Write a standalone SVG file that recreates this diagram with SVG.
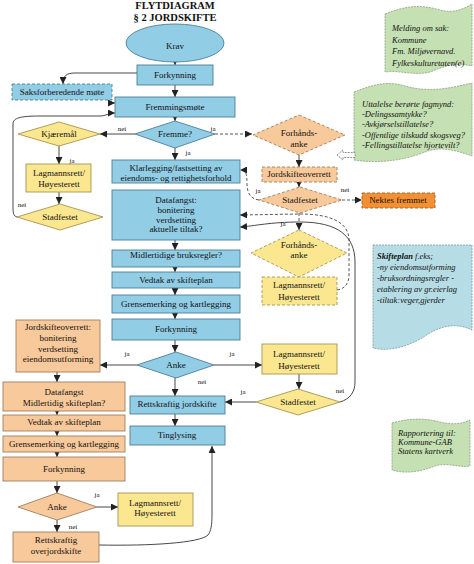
<svg xmlns="http://www.w3.org/2000/svg" width="474" height="564" viewBox="0 0 474 564">
<defs>
<marker id="ah" viewBox="0 0 8 8" refX="8" refY="4" markerWidth="7" markerHeight="7" markerUnits="userSpaceOnUse" orient="auto"><path d="M0,0 L8,4 L0,8 Z" fill="#222"/></marker>
</defs>
<style>
text{font-family:"Liberation Serif","Times New Roman",serif;font-size:9px;fill:#111;text-anchor:middle}
.title{font-weight:bold;font-size:10.5px}
.lbl{font-size:7px}
.note{font-style:italic;font-size:8.5px;text-anchor:start}
.blue{fill:#92cde6;stroke:#4d7f99;stroke-width:0.9}
.org{fill:#f8c99b;stroke:#a07f5f;stroke-width:0.9}
.yel{fill:#fbe78f;stroke:#a69550;stroke-width:0.9}
.dash{stroke-dasharray:3,2}
.nek{fill:#f39034;stroke:#a06020;stroke-width:0.9;stroke-dasharray:3,2}
.green{fill:#c5e0b3;stroke:#8e9e85;stroke-width:0.8;stroke-dasharray:2,1}
.bnote{fill:#b6dde6;stroke:#7a9aa0;stroke-width:0.8;stroke-dasharray:2,1}
.c{fill:none;stroke:#333;stroke-width:0.9;marker-end:url(#ah)}
.cn{fill:none;stroke:#333;stroke-width:0.9}
.cd{fill:none;stroke:#444;stroke-width:0.9;stroke-dasharray:3,2;marker-end:url(#ah)}
</style>

<g id="title">
<text class="title" x="175" y="9">FLYTDIAGRAM</text>
<text class="title" x="175" y="21">§ 2 JORDSKIFTE</text>
</g>

<g id="notes">
<g id="note-melding">
<path class="green" d="M385,14 C405,6 420,4 440,10 C455,14 465,8 472,4 L472,66 C455,62 445,66 430,72 C415,76 400,70 385,72 Z"/>
<text class="note" x="392" y="31">Melding om sak:</text>
<text class="note" x="392" y="43">Kommune</text>
<text class="note" x="392" y="54">Fm. Miljøvernavd.</text>
<text class="note" x="392" y="66">Fylkeskulturetaten(e)</text>
</g>
<g id="note-uttalelse">
<path class="green" d="M354,92 C370,86 385,80 405,86 C430,93 450,88 472,83 L472,156 C455,150 440,146 425,152 C405,160 380,164 354,160 Z"/>
<text class="note" x="362" y="107">Uttalelse berørte fagmynd:</text>
<text class="note" x="362" y="117">-Delingssamtykke?</text>
<text class="note" x="362" y="127">-Avkjørselstillatelse?</text>
<text class="note" x="362" y="137.5">-Offentlige tilskudd skogsveg?</text>
<text class="note" x="362" y="148">-Fellingstillatelse hjortevilt?</text>
</g>
<g id="note-skifteplan">
<path class="bnote" d="M373,245 L472,245 L472,330 C455,322 440,326 425,336 C410,346 390,352 373,348 Z"/>
<text class="note" x="377" y="259"><tspan font-weight="bold">Skifteplan</tspan>  f.eks;</text>
<text class="note" x="377" y="270">-ny eiendomsutforming</text>
<text class="note" x="377" y="281">-bruksordningsregler -</text>
<text class="note" x="377" y="292">etablering av gr.eierlag</text>
<text class="note" x="377" y="303">-tiltak:veger,gjerder</text>
</g>
<g id="note-rapportering">
<path class="green" d="M392,423 C410,418 425,418 440,422 C452,425 462,424 470,420 L470,466 C458,468 448,462 435,466 C420,472 405,474 392,470 Z"/>
<text class="note" x="398" y="436">Rapportering til:</text>
<text class="note" x="398" y="445">Kommune-GAB</text>
<text class="note" x="398" y="454">Statens kartverk</text>
</g>
<path id="note-arrow" d="M337,155 L343,150 L343,152.5 L355,152.5 L355,157.5 L343,157.5 L343,160 Z" fill="#fff" stroke="#777" stroke-width="0.8" stroke-dasharray="2,1"/>
</g>

<g id="connectors">
<path class="c" d="M175,62 L175,65"/>
<path class="c" d="M175,85 L175,97"/>
<path class="c" d="M137,73 L75,73 C66,73 63,76 63,84"/>
<path class="c" d="M112,103 L115,103"/>
<path class="c" d="M17,217 C13,216 13,212 13,206 L13,124 C13,118 20,116 40,116 L100,116 C106,116 108,113 115,113"/>
<path class="c" d="M175,117 L175,121"/>
<path class="c" d="M135,134 L100,134"/>
<path class="cd" d="M215,134 L252,134"/>
<path class="c" d="M175,148 L175,160"/>
<path class="c" d="M59,146 L59,164"/>
<path class="c" d="M59,192 L59,204"/>
<path class="c" d="M175,240 L175,250"/>
<path class="c" d="M175,267 L175,272"/>
<path class="c" d="M175,288 L175,295"/>
<path class="c" d="M175,313 L175,319"/>
<path class="c" d="M175,340 L175,352"/>
<path class="c" d="M137,365 L100,365"/>
<path class="c" d="M214,365 L262,365"/>
<path class="c" d="M175,378 L175,396"/>
<path class="c" d="M299,374 L299,389"/>
<path class="c" d="M256,402 L225,402"/>
<path class="c" d="M340,402 C350,399 355,392 355,382 L355,262 C355,236 338,222 300,222 C270,222 255,226 240,227"/>
<path class="c" d="M175,414 L175,426"/>
<path class="c" d="M57,372 L57,382"/>
<path class="c" d="M57,411 L57,415"/>
<path class="c" d="M57,431 L57,436"/>
<path class="c" d="M57,452 L57,457"/>
<path class="c" d="M57,481 L57,493"/>
<path class="c" d="M97,507 L118,507"/>
<path class="c" d="M57,520 L57,532"/>
<path class="c" d="M99,545 C150,546 200,543 208,535 C211,531 212,525 212,515 L212,446"/>
<path class="c" d="M299,155 L299,167"/>
<path class="c" d="M299,182 L299,187"/>
<path class="cd" d="M342,200 L362,200"/>
<path class="cd" d="M259,200 C250,199 247,192 247,184 C247,174 246,170 240,170"/>
<path class="cd" d="M299,213 L299,230"/>
<path class="cd" d="M337,290 C345,289 349,283 349,275 L349,240 C349,222 330,214 300,214 L240,215"/>
</g>

<g id="labels">
<text class="lbl" x="122" y="131">nei</text>
<text class="lbl" x="213" y="131">ja</text>
<text class="lbl" x="188" y="155">ja</text>
<text class="lbl" x="72" y="163">ja</text>
<text class="lbl" x="22" y="207">nei</text>
<text class="lbl" x="258" y="193">ja</text>
<text class="lbl" x="345" y="192">nei</text>
<text class="lbl" x="283" y="226">ja</text>
<text class="lbl" x="127" y="356">ja</text>
<text class="lbl" x="232" y="356">ja</text>
<text class="lbl" x="202" y="384">nei</text>
<text class="lbl" x="243" y="394">ja</text>
<text class="lbl" x="340" y="393">nei</text>
<text class="lbl" x="97" y="497">ja</text>
<text class="lbl" x="73" y="529">nei</text>
</g>

<g id="krav"><ellipse class="blue" cx="175" cy="43" rx="49" ry="19"/><text x="175" y="49">Krav</text></g>
<g id="forkynning1"><rect class="blue" x="137" y="65" width="76" height="20"/><text x="175" y="78">Forkynning</text></g>
<g id="saksforberedende"><rect class="blue dash" x="12" y="84" width="100" height="16"/><text x="62" y="95">Saksforberedende møte</text></g>
<g id="fremmingsmote"><rect class="blue" x="115" y="97" width="120" height="20"/><text x="175" y="110">Fremmingsmøte</text></g>
<g id="fremme"><polygon class="blue" points="175,121 215,134 175,148 135,134"/><text x="175" y="137">Fremme?</text></g>
<g id="kjaremal"><polygon class="yel" points="59,122 100,134 59,146 18,134"/><text x="59" y="137">Kjæremål</text></g>
<g id="lagmann1"><rect class="yel" x="26" y="164" width="65" height="28"/><text x="59" y="176">Lagmannsrett/</text><text x="59" y="187">Høyesterett</text></g>
<g id="stadfestet1"><polygon class="yel" points="60,204 103,217 60,230 17,217"/><text x="60" y="220">Stadfestet</text></g>
<g id="klarlegging"><rect class="blue" x="112" y="160" width="128" height="23"/><text x="176" y="171">Klarlegging/fastsetting av</text><text x="176" y="181">eiendoms- og rettighetsforhold</text></g>
<g id="datafangst"><rect class="blue" x="112" y="190" width="128" height="50"/><text x="176" y="203">Datafangst:</text><text x="176" y="213">bonitering</text><text x="176" y="222.5">verdsetting</text><text x="176" y="232">aktuelle tiltak?</text></g>
<g id="midlertidige"><rect class="blue" x="112" y="250" width="128" height="17"/><text x="176" y="258">Midlertidige bruksregler?</text></g>
<g id="vedtak1"><rect class="blue" x="112" y="272" width="128" height="16"/><text x="176" y="283">Vedtak av skifteplan</text></g>
<g id="grense1"><rect class="blue" x="112" y="295" width="128" height="18"/><text x="176" y="307">Grensemerking og kartlegging</text></g>
<g id="forkynning2"><rect class="blue" x="112" y="319" width="128" height="21"/><text x="176" y="332">Forkynning</text></g>
<g id="anke1"><polygon class="blue" points="176,352 214,365 176,378 137,365"/><text x="176" y="368">Anke</text></g>
<g id="rettskraftig1"><rect class="blue" x="130" y="396" width="95" height="18"/><text x="177" y="407">Rettskraftig jordskifte</text></g>
<g id="tinglysing"><rect class="blue" x="130" y="426" width="95" height="19"/><text x="177" y="438">Tinglysing</text></g>

<g id="overrett-box"><rect class="org" x="16" y="320" width="84" height="52"/><text x="58" y="330">Jordskifteoverrett:</text><text x="58" y="341">bonitering</text><text x="58" y="351.5">verdsetting</text><text x="58" y="362">eiendomsutforming</text></g>
<g id="datafangst2"><rect class="org" x="3" y="382" width="122" height="29"/><text x="64" y="395">Datafangst</text><text x="64" y="406">Midlertidig skifteplan?</text></g>
<g id="vedtak2"><rect class="org" x="3" y="415" width="122" height="16"/><text x="64" y="425">Vedtak av skifteplan</text></g>
<g id="grense2"><rect class="org" x="3" y="436" width="122" height="16"/><text x="64" y="447">Grensemerking og kartlegging</text></g>
<g id="forkynning3"><rect class="org" x="3" y="457" width="122" height="24"/><text x="64" y="472">Forkynning</text></g>
<g id="anke2"><polygon class="org" points="57,493 97,507 57,520 18,507"/><text x="57" y="510">Anke</text></g>
<g id="lagmann4"><rect class="yel" x="118" y="493" width="75" height="33"/><text x="155" y="506">Lagmannsrett/</text><text x="155" y="516">Høyesterett</text></g>
<g id="rettskraftig2"><rect class="org" x="13" y="532" width="86" height="30"/><text x="56" y="543">Rettskraftig</text><text x="56" y="554">overjordskifte</text></g>

<g id="forhandsanke1"><polygon class="org dash" points="299,115 345,135 299,155 253,135"/><text x="299" y="136">Forhånds-</text><text x="299" y="147">anke</text></g>
<g id="jordskifteoverrett"><rect class="org dash" x="262" y="167" width="75" height="15"/><text x="299" y="177">Jordskifteoverrett</text></g>
<g id="stadfestet2"><polygon class="org dash" points="300,187 342,200 300,213 259,200"/><text x="300" y="203">Stadfestet</text></g>
<g id="nektes"><rect class="nek" x="362" y="193" width="73" height="15"/><text x="398" y="203">Nektes fremmet</text></g>
<g id="forhandsanke2"><polygon class="yel dash" points="299,230 347,253 299,277 251,253"/><text x="299" y="248">Forhånds-</text><text x="299" y="258">anke</text></g>
<g id="lagmann2"><rect class="yel dash" x="262" y="277" width="75" height="28"/><text x="299" y="288">Lagmannsrett/</text><text x="299" y="300">Høyesterett</text></g>
<g id="lagmann3"><rect class="yel" x="262" y="344" width="75" height="30"/><text x="299" y="357">Lagmannsrett/</text><text x="299" y="369">Høyesterett</text></g>
<g id="stadfestet3"><polygon class="yel" points="298,389 340,402 298,415 256,402"/><text x="298" y="405">Stadfestet</text></g>
</svg>
